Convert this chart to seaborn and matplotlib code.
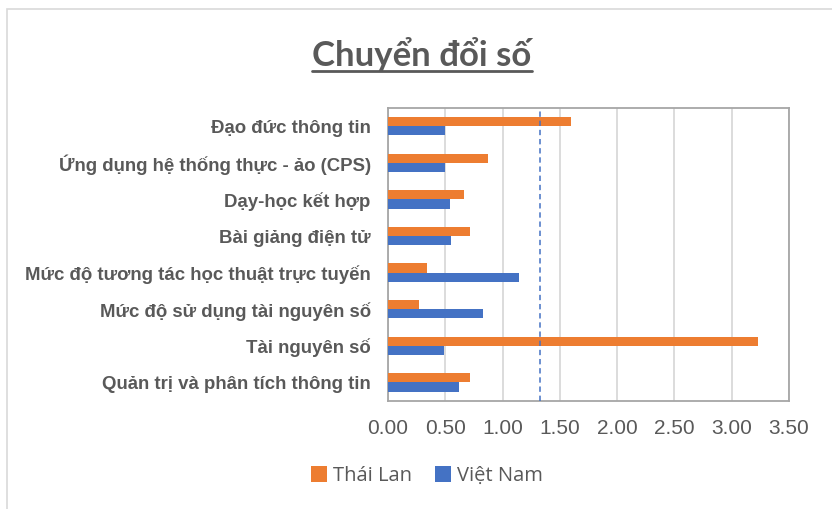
import matplotlib
matplotlib.use("Agg")
import matplotlib.pyplot as plt
import seaborn as sns
import pandas as pd
from matplotlib.lines import Line2D
from matplotlib.patches import Rectangle

# ---- data ----
categories = [
    "Đạo đức thông tin",
    "Ứng dụng hệ thống thực - ảo (CPS)",
    "Dạy-học kết hợp",
    "Bài giảng điện tử",
    "Mức độ tương tác học thuật trực tuyến",
    "Mức độ sử dụng tài nguyên số",
    "Tài nguyên số",
    "Quản trị và phân tích thông tin",
]
series_names = ["Thái Lan", "Việt Nam"]
thai_lan = [1.60, 0.87, 0.66, 0.72, 0.34, 0.27, 3.23, 0.72]
viet_nam = [0.50, 0.50, 0.54, 0.55, 1.14, 0.83, 0.49, 0.62]
reference_value = 1.33
x_ticks = [0.0, 0.5, 1.0, 1.5, 2.0, 2.5, 3.0, 3.5]
title = "Chuyển đổi số"

colors = ["#ED7D31", "#4472C4"]
text_gray = "#595959"

df = pd.DataFrame({
    "category": categories * 2,
    "country": [series_names[0]] * len(categories) + [series_names[1]] * len(categories),
    "value": thai_lan + viet_nam,
})

sns.set_theme(style="white")
plt.rcParams["font.family"] = ["Liberation Sans", "DejaVu Sans"]

fig = plt.figure(figsize=(8.32, 5.09), dpi=100)
ax = fig.add_axes([388 / 832, 1 - 400.7 / 509, (789 - 388) / 832, (400.7 - 108) / 509])

sns.barplot(data=df, y="category", x="value", hue="country", order=categories,
            hue_order=series_names, palette=colors, orient="h", width=0.5,
            linewidth=0, saturation=1, ax=ax, zorder=3)

ax.set_xlim(0, 3.5)
ax.set_ylim(len(categories) - 0.5, -0.5)
ax.set_xticks(x_ticks)
ax.set_xticklabels([f"{t:.2f}" for t in x_ticks], fontsize=15, color=text_gray)
ax.tick_params(axis="x", length=0, pad=13)
ax.tick_params(axis="y", length=0, pad=12.5)
for lbl in ax.get_yticklabels():
    lbl.set_fontsize(13.4)
    lbl.set_fontweight("bold")
    lbl.set_color(text_gray)
ax.set_xlabel("")
ax.set_ylabel("")

ax.grid(axis="x", color="#D9D9D9", linewidth=1.3, zorder=0)
ax.grid(axis="y", visible=False)
for s in ax.spines.values():
    s.set_visible(True)
    s.set_color("#A6A6A6")
    s.set_linewidth(1.3)

ax.axvline(reference_value, color="#4472C4", linestyle=(0, (3.5, 2.5)), linewidth=1.1, zorder=4)

# legend
handles, labels = ax.get_legend_handles_labels()
if ax.legend_:
    ax.legend_.remove()
fig.legend(handles, labels, loc="center", bbox_to_anchor=(427 / 832, 1 - 476 / 509),
           ncol=2, frameon=False, prop={"family": ["Open Sans", "DejaVu Sans"], "size": 14.5},
           handlelength=0.8, handleheight=0.8, handletextpad=0.3, columnspacing=1.1,
           labelcolor=text_gray)

# title with underline
t = fig.text(422 / 832, 1 - 66 / 509, title, ha="center", va="baseline",
             fontsize=25, fontweight="bold", color=text_gray,
             family=["Lato", "DejaVu Sans"])
fig.canvas.draw()
bb = t.get_window_extent()
uy = 1 - 70.5 / 509
fig.add_artist(Line2D([bb.x0 / 832, bb.x1 / 832], [uy, uy], transform=fig.transFigure,
                      color=text_gray, linewidth=2))

# outer chart border (partially visible)
fig.add_artist(Rectangle((7 / 832, -0.1), 2, 1 - 9 / 509 + 0.1, transform=fig.transFigure,
                         fill=False, edgecolor="#D9D9D9", linewidth=1.2))

fig.savefig("out.png", dpi=100)
